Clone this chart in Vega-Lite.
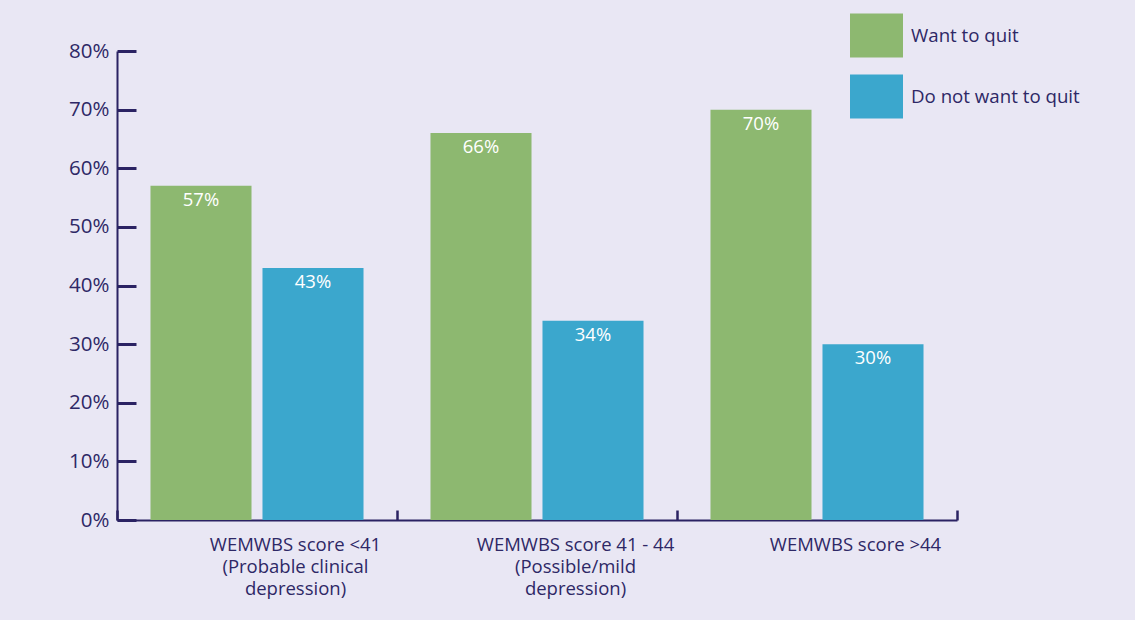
{
  "$schema": "https://vega.github.io/schema/vega-lite/v6.json",
  "width": 840,
  "height": 469,
  "autosize": {"type": "none"},
  "padding": {"left": 117, "top": 51, "right": 178, "bottom": 100},
  "background": "#e9e7f4",
  "config": {"view": {"stroke": null}, "font": "Open Sans"},
  "data": {
    "values": [
      {"group": "WEMWBS score <41|(Probable clinical|depression)", "series": "Want to quit", "value": 0.57},
      {"group": "WEMWBS score <41|(Probable clinical|depression)", "series": "Do not want to quit", "value": 0.43},
      {"group": "WEMWBS score 41 - 44|(Possible/mild|depression)", "series": "Want to quit", "value": 0.66},
      {"group": "WEMWBS score 41 - 44|(Possible/mild|depression)", "series": "Do not want to quit", "value": 0.34},
      {"group": "WEMWBS score >44", "series": "Want to quit", "value": 0.70},
      {"group": "WEMWBS score >44", "series": "Do not want to quit", "value": 0.30}
    ]
  },
  "encoding": {
    "x": {
      "field": "group",
      "type": "nominal",
      "sort": null,
      "scale": {"paddingInner": 0, "paddingOuter": 0},
      "axis": {
        "title": null,
        "labelAngle": 0,
        "labelExpr": "split(datum.label, '|')",
        "labelLimit": 0,
        "tickBand": "extent",
        "tickSize": -10,
        "tickWidth": 2.5,
        "tickColor": "#2b2363",
        "domainColor": "#2b2363",
        "domainWidth": 2,
        "labelFontSize": 18.5,
        "labelColor": "#2e2866",
        "labelLineHeight": 22,
        "labelPadding": 25,
        "labelOffset": 38,
        "labelBaseline": "top"
      }
    },
    "xOffset": {
      "field": "series",
      "sort": ["Want to quit", "Do not want to quit"],
      "scale": {"paddingInner": 0.098, "paddingOuter": 0.299}
    },
    "y": {
      "field": "value",
      "type": "quantitative",
      "scale": {"domain": [0, 0.8]},
      "axis": {
        "title": null,
        "grid": false,
        "format": ".0%",
        "values": [0, 0.1, 0.2, 0.3, 0.4, 0.5, 0.6, 0.7, 0.8],
        "tickSize": -19,
        "tickWidth": 3,
        "tickColor": "#2b2363",
        "domainColor": "#2b2363",
        "domainWidth": 2,
        "labelFontSize": 20.5,
        "labelColor": "#2e2866",
        "labelPadding": 27
      }
    }
  },
  "layer": [
    {
      "mark": {"type": "bar"},
      "encoding": {
        "color": {
          "field": "series",
          "type": "nominal",
          "sort": ["Want to quit", "Do not want to quit"],
          "scale": {"domain": ["Want to quit", "Do not want to quit"], "range": ["#8db870", "#3ba7cd"]},
          "legend": {
            "title": null,
            "orient": "none",
            "legendX": 733,
            "legendY": -42,
            "symbolType": "M-1,-0.83H1V0.83H-1Z",
            "symbolSize": 2809,
            "symbolStrokeWidth": 0,
            "symbolOpacity": 1,
            "labelFontSize": 18.7,
            "labelColor": "#2e2866",
            "labelOffset": 8,
            "labelLimit": 0,
            "rowPadding": 12
          }
        }
      }
    },
    {
      "mark": {"type": "text", "baseline": "top", "dy": 5, "color": "white", "fontSize": 18.5},
      "encoding": {"text": {"field": "value", "type": "quantitative", "format": ".0%"}}
    }
  ]
}
